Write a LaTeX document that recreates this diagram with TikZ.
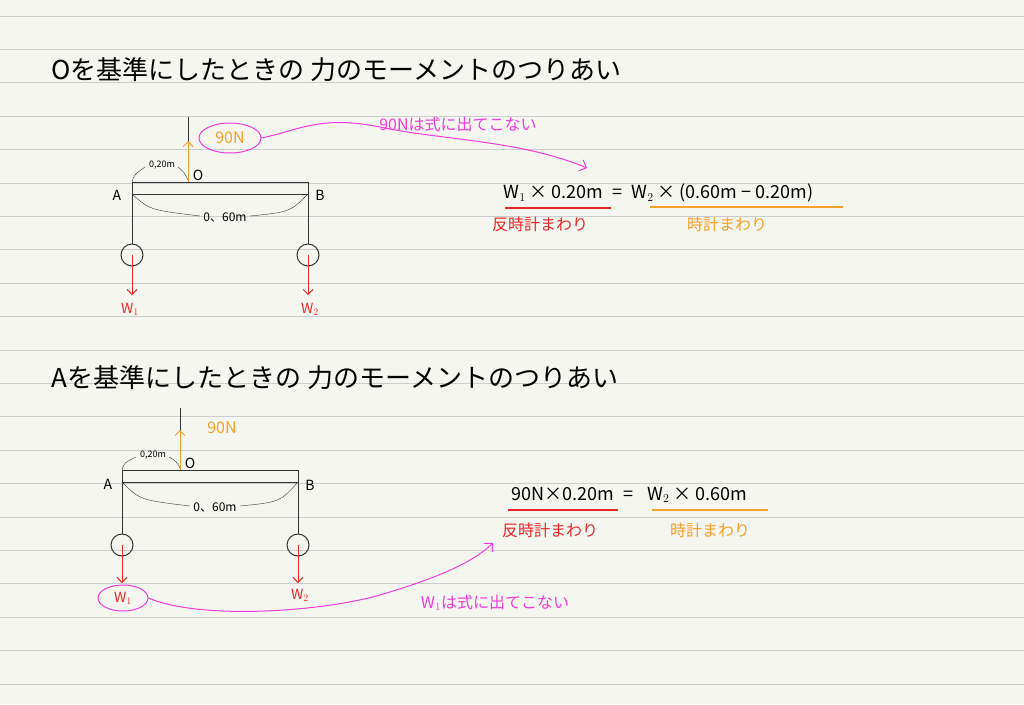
\documentclass[tikz,border=0pt]{standalone}
\usepackage{fontspec}
\setmainfont{Noto Sans CJK JP}
\usetikzlibrary{arrows.meta,shapes.geometric}
\definecolor{bg}{RGB}{246,246,241}
\definecolor{rule}{RGB}{205,205,205}
\definecolor{pk}{RGB}{240,60,220}
\definecolor{og}{RGB}{245,160,40}
\definecolor{rd}{RGB}{235,40,40}
\tikzset{x=1pt,y=-1pt,
 bm/.style={draw=black!80,line width=1pt},
 txt/.style={font=\fontsize{14}{14}\selectfont},
 lab/.style={font=\fontsize{16}{16}\selectfont},
 ttl/.style={font=\fontsize{26}{26}\selectfont,anchor=west},
 eq/.style={font=\fontsize{18}{18}\selectfont},
 farrow/.style={-{Straight Barb[length=5pt]},line width=1pt},
 hl/.style={pk,line width=1pt}}
\begin{document}
\begin{tikzpicture}
\fill[bg] (0,0) rectangle (1024,704);
\useasboundingbox (0,0) rectangle (1024,704);
\foreach \i in {0,...,20} \draw[rule,line width=0.8pt] (0,16+33.4*\i) -- (1024,16+33.4*\i);
% titles
\node[ttl] (t1) at (48,70) {Oを基準にしたときの 力のモーメントのつりあい};
\node[ttl] (t2) at (48,378) {Aを基準にしたときの 力のモーメントのつりあい};
% diagram 1
\draw[bm] (132,182) rectangle (308,194);
\draw[bm] (188,117) -- (188,182);
\draw[og,farrow] (188,182) -- (188,141);
\draw[bm] (132,194) -- (132,244) (308,194) -- (308,244);
\node[circle,draw=black!80,line width=1pt,minimum size=22pt,inner sep=0] (c1) at (132,255) {};
\node[circle,draw=black!80,line width=1pt,minimum size=22pt,inner sep=0] (c2) at (308,255) {};
\draw[rd,farrow] (132,255) -- (132,295);
\draw[rd,farrow] (308,255) -- (308,295);
\node[txt,rd] (w1) at (130,309) {W$_1$};
\node[txt,rd] (w2) at (310,309) {W$_2$};
\node[txt] (a1) at (117,195) {A};
\node[txt] (b1) at (320,195) {B};
\node[txt] (o1) at (198,175) {O};
\node[font=\fontsize{9}{9}\selectfont] (d1) at (162,165) {0,20m};
\draw[black!80] (132,182) .. controls (134,175) .. (145,167);
\draw[black!80] (178,167) .. controls (184,172) .. (188,180);
\node[font=\fontsize{12}{12}\selectfont] (e1) at (225,217) {0、60m};
\draw[black!80] (132,194) .. controls (150,210) .. (200,216);
\draw[black!80] (250,216) .. controls (290,212) .. (308,194);
\node[ellipse,draw=pk,line width=1pt,minimum width=62pt,minimum height=30pt,inner sep=0,lab] (n1) at (230,138) {\textcolor{og}{90N}};
\draw[hl,-{Straight Barb[length=6pt]}] (n1.east) .. controls (300,130) and (320,115) .. (380,127) .. controls (440,140) and (520,140) .. (587,168);
\node[lab,pk] (m1) at (458,124) {90Nは式に出てこない};
% equation 1
\node[eq,anchor=west] (q1) at (500,193) {W$_1$ × 0.20m \;=\; W$_2$ × (0.60m − 0.20m)};
\draw[rd,line width=1.2pt] (505,208) -- (611,208);
\draw[og,line width=1.2pt] (650,207) -- (843,207);
\node[lab,rd] (r1) at (540,224) {反時計まわり};
\node[lab,og] (r2) at (727,224) {時計まわり};
% diagram 2
\draw[bm] (122,470) rectangle (298,482);
\draw[bm] (180,408) -- (180,470);
\draw[og,farrow] (180,470) -- (180,430);
\draw[bm] (122,482) -- (122,534) (298,482) -- (298,534);
\node[circle,draw=black!80,line width=1pt,minimum size=22pt,inner sep=0] (c3) at (122,545) {};
\node[circle,draw=black!80,line width=1pt,minimum size=22pt,inner sep=0] (c4) at (298,545) {};
\draw[rd,farrow] (122,545) -- (122,583);
\draw[rd,farrow] (298,545) -- (298,583);
\node[lab,og] (f2) at (222,428) {90N};
\node[txt] (a2) at (108,484) {A};
\node[txt] (b2) at (310,485) {B};
\node[txt] (o2) at (190,463) {O};
\node[font=\fontsize{9}{9}\selectfont] (d2) at (153,455) {0,20m};
\draw[black!80] (122,470) .. controls (124,463) .. (136,457);
\draw[black!80] (169,457) .. controls (176,461) .. (180,468);
\node[font=\fontsize{12}{12}\selectfont] (e2) at (215,507) {0、60m};
\draw[black!80] (122,482) .. controls (140,500) .. (190,506);
\draw[black!80] (240,506) .. controls (280,502) .. (298,482);
\node[ellipse,draw=pk,line width=1pt,minimum width=50pt,minimum height=26pt,inner sep=0,txt] (n2) at (123,598) {\textcolor{rd}{W$_1$}};
\node[txt,rd] (w4) at (300,595) {W$_2$};
\draw[hl,-{Straight Barb[length=6pt]}] (n2.east) .. controls (200,620) and (320,612) .. (380,595) .. controls (430,580) and (470,565) .. (493,543);
\node[lab,pk] (m2) at (495,603) {W$_1$は式に出てこない};
% equation 2
\node[eq,anchor=west] (q2) at (508,495) {90N×0.20m \;=\;\; W$_2$ × 0.60m};
\draw[rd,line width=1.2pt] (508,510) -- (618,510);
\draw[og,line width=1.2pt] (652,510) -- (768,510);
\node[lab,rd] (r3) at (550,530) {反時計まわり};
\node[lab,og] (r4) at (710,530) {時計まわり};
\end{tikzpicture}
\end{document}
